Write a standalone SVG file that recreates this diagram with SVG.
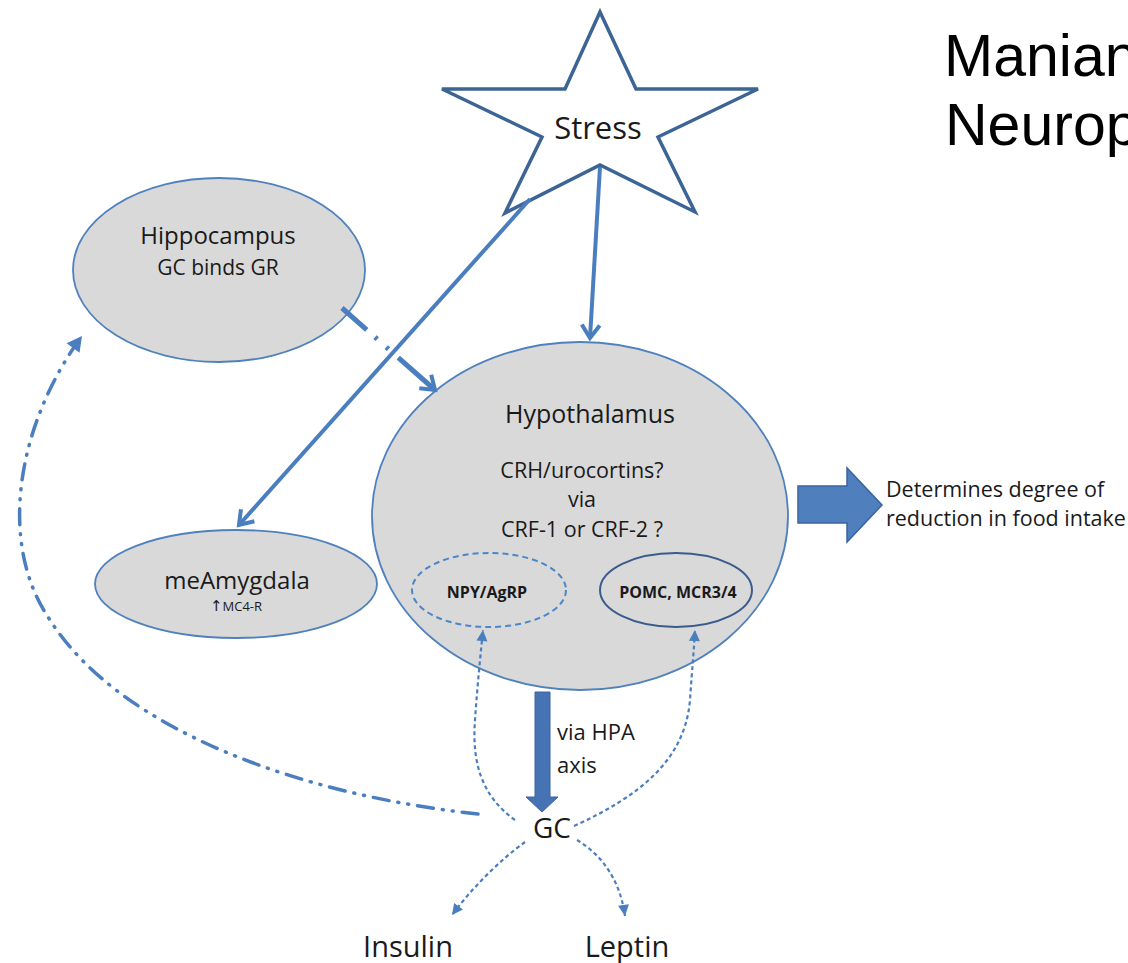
<svg xmlns="http://www.w3.org/2000/svg" width="1128" height="963" viewBox="0 0 1128 963">
<style>
.t{font-family:"Open Sans","Noto Sans",sans-serif;fill:#1a1a1a;text-anchor:middle}
.b{font-weight:bold}
.node{fill:#d9d9d9;stroke:#4f81bd;stroke-width:1.8}
.ln{fill:none;stroke:#4a7ebf;stroke-width:4}
.dot{fill:none;stroke:#4a7ebf;stroke-width:2.2;stroke-dasharray:4 3}
</style>
<defs>
<marker id="chev" markerUnits="userSpaceOnUse" viewBox="-16 -12 20 24" markerWidth="20" markerHeight="24" refX="0" refY="0" orient="auto">
<path d="M-13,-9 L0,0 L-13,9" fill="none" stroke="#4a7ebf" stroke-width="4" stroke-linejoin="miter"/>
</marker>
<marker id="tri" markerUnits="userSpaceOnUse" viewBox="-12 -6 13 12" markerWidth="13" markerHeight="12" refX="0" refY="0" orient="auto">
<path d="M-11,-5.5 L0,0 L-11,5.5 Z" fill="#4a7ebf"/>
</marker>
<marker id="tri2" markerUnits="userSpaceOnUse" viewBox="-16 -9 17 18" markerWidth="17" markerHeight="18" refX="0" refY="0" orient="auto">
<path d="M-15,-8 L0,0 L-15,8 Z" fill="#4a7ebf"/>
</marker>
</defs>
<rect width="1128" height="963" fill="#ffffff"/>

<text x="944" y="76" font-family="Liberation Sans, Arial, sans-serif" font-size="59" fill="#000">Manian</text>
<text x="945" y="145" font-family="Liberation Sans, Arial, sans-serif" font-size="59" fill="#000">Neurop</text>

<g id="stress">
<polygon points="600,12 636,89 758,89 658,137 695,212 600,165 505,213 542,137 442,89 565,89" fill="#ffffff" stroke="#3c6494" stroke-width="3.5" stroke-linejoin="miter"/>
<text class="t" x="598" y="139" font-size="31">Stress</text>
</g>

<g id="hippocampus">
<ellipse class="node" cx="219" cy="270" rx="146" ry="92"/>
<text class="t" x="218" y="244" font-size="24">Hippocampus</text>
<text class="t" x="218" y="275" font-size="21">GC binds GR</text>
</g>

<g id="hypothalamus">
<ellipse class="node" cx="580" cy="516" rx="208" ry="174"/>
<text class="t" x="590" y="423" font-size="25">Hypothalamus</text>
<text class="t" x="582" y="478" font-size="21.5">CRH/urocortins?</text>
<text class="t" x="582" y="507" font-size="21.5">via</text>
<text class="t" x="582" y="537" font-size="21.5">CRF-1 or CRF-2 ?</text>
</g>

<g id="npy">
<ellipse cx="489" cy="590" rx="77" ry="37" fill="none" stroke="#4a86c8" stroke-width="2" stroke-dasharray="6 4"/>
<text class="t b" x="487" y="598" font-size="16">NPY/AgRP</text>
</g>

<g id="pomc">
<ellipse cx="676" cy="590" rx="76" ry="37" fill="none" stroke="#3a5c8c" stroke-width="2"/>
<text class="t b" x="678" y="598" font-size="16">POMC, MCR3/4</text>
</g>

<g id="meamygdala">
<ellipse class="node" cx="236" cy="584" rx="141" ry="54"/>
<text class="t" x="237" y="589" font-size="24">meAmygdala</text>
<text class="t" x="236" y="611" font-size="13"><tspan font-family="DejaVu Sans, sans-serif" font-size="15">↑</tspan>MC4-R</text>
</g>

<g id="gc">
<text class="t" x="552" y="838" font-size="28">GC</text>
</g>
<g id="hpa-label">
<text class="t" x="557" y="740" font-size="22" style="text-anchor:start">via HPA</text>
<text class="t" x="557" y="773" font-size="22" style="text-anchor:start">axis</text>
</g>
<g id="insulin"><text class="t" x="408" y="957" font-size="29">Insulin</text></g>
<g id="leptin"><text class="t" x="627" y="957" font-size="29">Leptin</text></g>
<g id="outcome">
<text class="t" x="886" y="497" font-size="21.5" style="text-anchor:start">Determines degree of</text>
<text class="t" x="886" y="526" font-size="21.5" style="text-anchor:start">reduction in food intake</text>
</g>

<g id="connectors">
<line class="ln" x1="600" y1="167" x2="590" y2="338" marker-end="url(#chev)"/>
<line class="ln" x1="530" y1="199" x2="239" y2="525" marker-end="url(#chev)"/>
<line x1="342" y1="308" x2="435" y2="390" fill="none" stroke="#4a7ebf" stroke-width="5" stroke-dasharray="33 11 3 12 3 13 80" marker-end="url(#chev)"/>
<path d="M478,814 C300,795 120,730 50,620 C-5,540 20,420 82,336" fill="none" stroke="#4a7ebf" stroke-width="3.5" stroke-linecap="round" stroke-dasharray="16 9 1 9 1 9" marker-end="url(#tri2)"/>
<path class="dot" d="M515,820 C480,795 472,760 475,720 C477,690 480,660 483,630" marker-end="url(#tri)"/>
<path class="dot" d="M574,826 C640,796 685,760 690,700 C692,670 694,650 695,630" marker-end="url(#tri)"/>
<path class="dot" d="M525,842 C500,860 472,888 452,915" marker-end="url(#tri)"/>
<path class="dot" d="M577,840 C602,855 620,880 625,916" marker-end="url(#tri)"/>
<polygon points="535,692 550,692 550,797 558,797 542,812 526,797 535,797" fill="#4673b3" stroke="#3a64a0" stroke-width="1"/>
<polygon points="798,486 847,486 847,468 882,505 847,542 847,523 798,523" fill="#4f7fbd" stroke="#3a64a0" stroke-width="1.5"/>
</g>
</svg>
